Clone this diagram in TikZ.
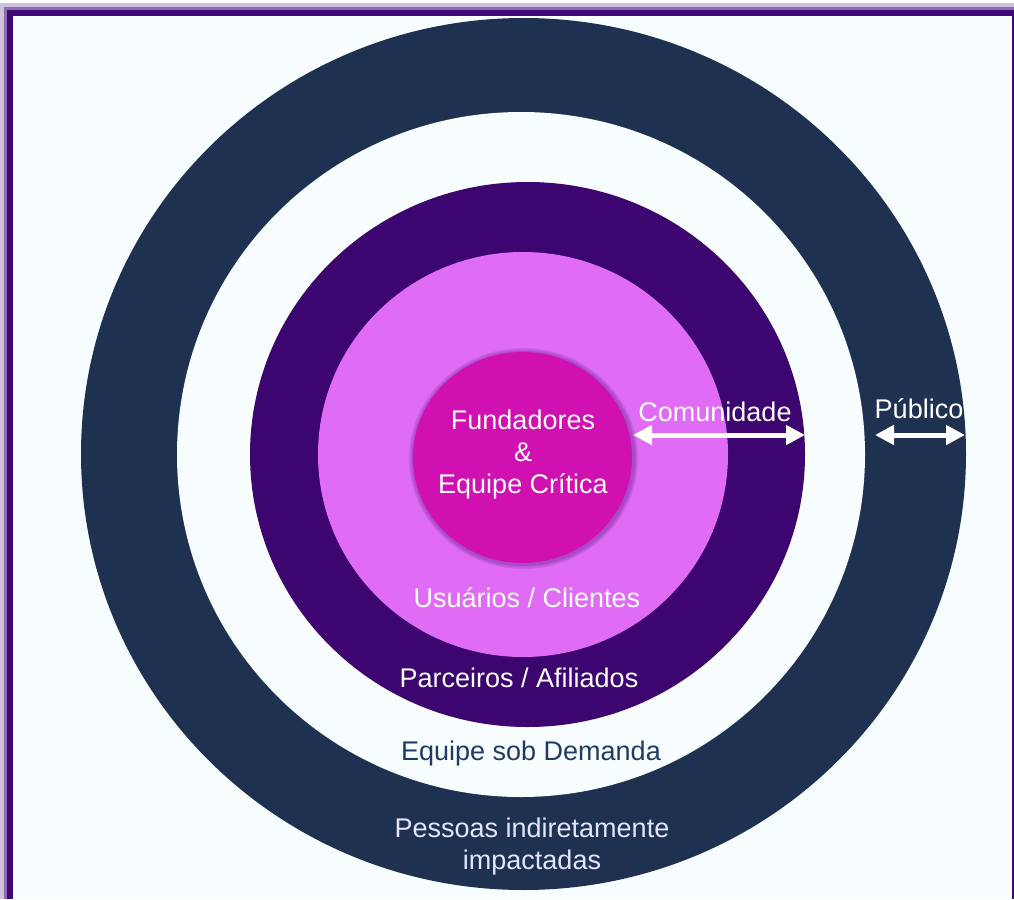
\documentclass[tikz,border=0pt]{standalone}
\usepackage{fontspec}
\setmainfont{Liberation Sans}
\usetikzlibrary{positioning,shapes.geometric,arrows.meta}
\definecolor{navy}{HTML}{1E3150}
\definecolor{azul}{HTML}{1F3A68}
\definecolor{roxo}{HTML}{3C0570}
\definecolor{lilas}{HTML}{E06CF5}
\definecolor{fucsia}{HTML}{D010B0}
\definecolor{fundo}{HTML}{F8FDFF}
\definecolor{moldura}{HTML}{3D0A78}

\begin{document}
\begin{tikzpicture}[x=1pt,y=-1pt,
    >={Triangle[width=19pt,length=19pt]}]
  \tikzstyle{ring}=[ellipse, inner sep=0pt, draw=none]
  \tikzstyle{rotulo}=[text=white, font=\fontsize{27}{32}\selectfont,
                      align=center, inner sep=0pt]
  \tikzstyle{seta}=[<->, line width=5pt, white]

  \useasboundingbox (0,0) rectangle (1014,899);
  % moldura
  \fill[moldura!25] (0,3) rectangle (1014,899);
  \fill[moldura!60] (4,7) rectangle (1014,899);
  \fill[moldura]    (7,10) rectangle (1014,899);
  \fill[fundo]      (13,16) rectangle (1012,899);

  % aneis
  \node[ring, fill=navy,   minimum width=885pt, minimum height=872pt] (publico)   at (523.5,454)   {};
  \node[ring, fill=fundo,  minimum width=688pt, minimum height=685pt] (demanda)   at (521,454.5)   {};
  \node[ring, fill=roxo,   minimum width=555pt, minimum height=545pt] (parceiros) at (527.5,454.5) {};
  \node[ring, fill=lilas,  minimum width=410pt, minimum height=405pt] (usuarios)  at (523,454.5)   {};
  % brilho suave
  \foreach \d in {10,7,4}
    \node[ring, fill=roxo, opacity=0.12,
          minimum width=219pt+\d pt, minimum height=211pt+\d pt] at (523.5,458.5) {};
  \node[ring, fill=fucsia, minimum width=219pt, minimum height=211pt] (nucleo)    at (522.5,457.5) {};

  \node[rotulo] (lnucleo)     at (523,455) {Fundadores\\\&\\Equipe Crítica};
  \node[rotulo] (lcomunidade) at (715,412) {Comunidade};
  \node[rotulo] (lpublico)    at (919,409) {Público};
  \node[rotulo] (lusuarios)   at (527,598) {Usuários / Clientes};
  \node[rotulo] (lparceiros)  at (519,678) {Parceiros / Afiliados};
  \node[rotulo, text=azul]    (ldemanda) at (531,754) {Equipe sob Demanda};
  \node[rotulo, text=white!90!blue] (lpessoas) at (532,847) {Pessoas indiretamente\\impactadas};

  \coordinate (c1) at (633,435);
  \coordinate (c2) at (805,435);
  \coordinate (p1) at (875,435);
  \coordinate (p2) at (965,435);
  \draw[seta] (c1) -- (c2);
  \draw[seta] (p1) -- (p2);

\end{tikzpicture}
\end{document}
